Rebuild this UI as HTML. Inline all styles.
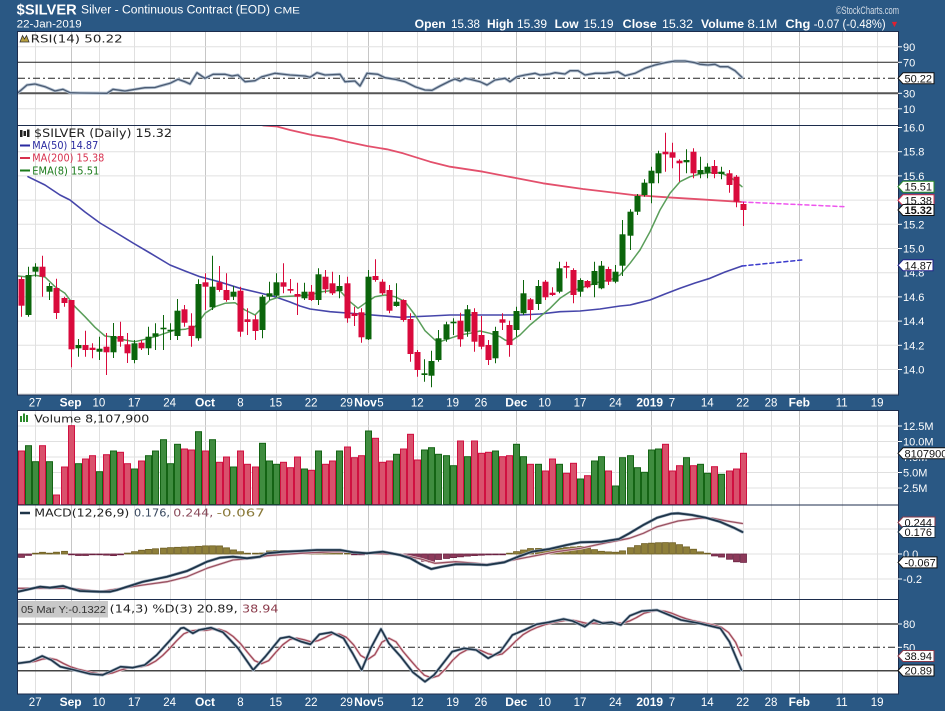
<!DOCTYPE html>
<html><head><meta charset="utf-8">
<style>
html,body{margin:0;padding:0;background:#2a5884;width:945px;height:711px;overflow:hidden}
svg{display:block}
text{font-family:"Liberation Sans",sans-serif}
.lg{font-family:"DejaVu Sans","Liberation Sans",sans-serif}
.ax{font-size:11px;fill:#fff}
.xl{font-size:11.5px;fill:#fff;text-anchor:middle}
.xm{font-size:12px;fill:#fff;text-anchor:middle;font-weight:bold}
.bx{font-size:11px;fill:#111}
</style></head><body>
<svg id="c" width="945" height="711" viewBox="0 0 945 711" xmlns="http://www.w3.org/2000/svg">
<defs>
<clipPath id="cR"><rect x="18" y="31.5" width="880" height="94"/></clipPath>
<clipPath id="cM"><rect x="18" y="125.5" width="880" height="269.5"/></clipPath>
<clipPath id="cV"><rect x="18" y="410.5" width="880" height="94.5"/></clipPath>
<clipPath id="cD"><rect x="18" y="505" width="880" height="94.5"/></clipPath>
<clipPath id="cS"><rect x="18" y="599.5" width="880" height="94.5"/></clipPath>
</defs>
<rect width="945" height="711" fill="#2a5884"/>
<g fill="#fff">
<rect x="18" y="31.5" width="880" height="94"/>
<rect x="18" y="125.5" width="880" height="269.5"/>
<rect x="18" y="410.5" width="880" height="94.5"/>
<rect x="18" y="505" width="880" height="94.5"/>
<rect x="18" y="599.5" width="880" height="94.5"/>
</g>
<g id="grid"></g>
<g id="fixed" fill="none">
<line x1="18" x2="898" y1="62.3" y2="62.3" stroke="#222" stroke-width="1"/>
<line x1="18" x2="898" y1="78.3" y2="78.3" stroke="#222" stroke-width="1" stroke-dasharray="7,3,2,3"/>
<line x1="18" x2="898" y1="93.3" y2="93.3" stroke="#555" stroke-width="2"/>
<line x1="18" x2="898" y1="624" y2="624" stroke="#444" stroke-width="1.5"/>
<line x1="18" x2="898" y1="647.3" y2="647.3" stroke="#222" stroke-width="1" stroke-dasharray="7,3,2,3"/>
<line x1="18" x2="898" y1="670.7" y2="670.7" stroke="#444" stroke-width="1.5"/>
</g>
<g id="ser"></g>
<g fill="none" stroke="#1c2c4c" stroke-width="1">
<rect x="17.5" y="31.5" width="881" height="94"/>
<rect x="17.5" y="125.5" width="881" height="269.5"/>
<rect x="17.5" y="410.5" width="881" height="94.5"/>
<rect x="17.5" y="505" width="881" height="94.5"/>
<rect x="17.5" y="599.5" width="881" height="94.5"/>
</g>

<!-- header -->
<text x="16.7" y="14.5" font-size="14.5" font-weight="bold" fill="#fff" textLength="60" lengthAdjust="spacingAndGlyphs">$SILVER</text>
<text x="81" y="13.5" font-size="11.5" fill="#fff" textLength="189" lengthAdjust="spacingAndGlyphs">Silver - Continuous Contract (EOD)</text>
<text x="274" y="13.5" font-size="9.5" fill="#fff" textLength="26" lengthAdjust="spacingAndGlyphs">CME</text>
<text x="16.7" y="27.5" font-size="11" fill="#fff" textLength="65" lengthAdjust="spacingAndGlyphs">22-Jan-2019</text>
<text x="836" y="14" font-size="11" fill="#d4dce6" textLength="63" lengthAdjust="spacingAndGlyphs">©StockCharts.com</text>
<g font-size="11.5" fill="#fff">
<text x="414.7" y="28" font-weight="bold" textLength="31" lengthAdjust="spacingAndGlyphs">Open</text>
<text x="451" y="28" textLength="29" lengthAdjust="spacingAndGlyphs">15.38</text>
<text x="487" y="28" font-weight="bold" textLength="26.6" lengthAdjust="spacingAndGlyphs">High</text>
<text x="517" y="28" textLength="30" lengthAdjust="spacingAndGlyphs">15.39</text>
<text x="554.6" y="28" font-weight="bold" textLength="24" lengthAdjust="spacingAndGlyphs">Low</text>
<text x="583.5" y="28" textLength="30" lengthAdjust="spacingAndGlyphs">15.19</text>
<text x="622.7" y="28" font-weight="bold" textLength="34" lengthAdjust="spacingAndGlyphs">Close</text>
<text x="662" y="28" textLength="31" lengthAdjust="spacingAndGlyphs">15.32</text>
<text x="701" y="28" font-weight="bold" textLength="43" lengthAdjust="spacingAndGlyphs">Volume</text>
<text x="747.4" y="28" textLength="30" lengthAdjust="spacingAndGlyphs">8.1M</text>
<text x="785.4" y="28" font-weight="bold" textLength="25" lengthAdjust="spacingAndGlyphs">Chg</text>
<text x="813.7" y="28" textLength="72" lengthAdjust="spacingAndGlyphs">-0.07 (-0.48%)</text>
</g>
<text x="890" y="27" font-size="9" fill="#e02030">▼</text>

<!-- legends -->
<polygon points="20,42 22.5,35.5 24.5,39 26.5,35.5 29,42" fill="#b8a040" stroke="#333" stroke-width="0.8"/>
<text class="lg" x="30.7" y="42.5" font-size="11" fill="#222" textLength="92" lengthAdjust="spacingAndGlyphs">RSI(14) 50.22</text>

<g fill="#222"><rect x="20" y="130" width="2.5" height="7"/><rect x="23.5" y="131" width="2.5" height="5"/><rect x="27" y="129.5" width="2.5" height="7.5"/></g>
<text class="lg" x="34" y="137" font-size="11.5" fill="#222" textLength="138" lengthAdjust="spacingAndGlyphs">$SILVER (Daily) 15.32</text>
<line x1="20" x2="30" y1="145.5" y2="145.5" stroke="#2a2aa0" stroke-width="2"/>
<text class="lg" x="32.3" y="149" font-size="10.5" fill="#2a2aa0" textLength="66" lengthAdjust="spacingAndGlyphs">MA(50) 14.87</text>
<line x1="20" x2="30" y1="158" y2="158" stroke="#d8304e" stroke-width="2"/>
<text class="lg" x="32.3" y="161.7" font-size="10.5" fill="#d8304e" textLength="72" lengthAdjust="spacingAndGlyphs">MA(200) 15.38</text>
<line x1="20" x2="30" y1="170.5" y2="170.5" stroke="#1a7a1a" stroke-width="2"/>
<text class="lg" x="32.3" y="174.3" font-size="10.5" fill="#1a7a1a" textLength="67" lengthAdjust="spacingAndGlyphs">EMA(8) 15.51</text>

<g fill="#2a8a2a"><rect x="20" y="416" width="2" height="6"/><rect x="23" y="413.5" width="2" height="8.5"/><rect x="26" y="415" width="2" height="7"/></g>
<text class="lg" x="34.3" y="422.3" font-size="11" fill="#222" textLength="115" lengthAdjust="spacingAndGlyphs">Volume 8,107,900</text>

<line x1="20" x2="30" y1="513" y2="513" stroke="#1e3448" stroke-width="2.5"/>
<text class="lg" x="34.3" y="516.7" font-size="11" fill="#222" textLength="95" lengthAdjust="spacingAndGlyphs">MACD(12,26,9)</text>
<text class="lg" x="134" y="516.7" font-size="11" fill="#3a4a60" textLength="36" lengthAdjust="spacingAndGlyphs">0.176,</text>
<text class="lg" x="173.3" y="516.7" font-size="11" fill="#8a4a5a" textLength="40" lengthAdjust="spacingAndGlyphs">0.244,</text>
<text class="lg" x="216.7" y="516.7" font-size="11" fill="#8a7a3a" textLength="48" lengthAdjust="spacingAndGlyphs">-0.067</text>

<rect x="18" y="601" width="90" height="16.5" fill="#c8c8c8"/>
<text x="21" y="613" font-size="10" fill="#333" textLength="85" lengthAdjust="spacingAndGlyphs">05 Mar Y:-0.1322</text>
<text class="lg" x="109.7" y="612.5" font-size="10.5" fill="#222" textLength="128" lengthAdjust="spacingAndGlyphs">(14,3) %D(3) 20.89,</text>
<text class="lg" x="242" y="612.5" font-size="10.5" fill="#8a3a4a" textLength="36.5" lengthAdjust="spacingAndGlyphs">38.94</text>

<!-- right axis labels -->
<g stroke="#fff" stroke-width="1">
<line x1="898" x2="902" y1="46.8" y2="46.8"/><line x1="898" x2="902" y1="62.3" y2="62.3"/><line x1="898" x2="902" y1="93.3" y2="93.3"/><line x1="898" x2="902" y1="108.8" y2="108.8"/>
<line x1="898" x2="902" y1="127.5" y2="127.5"/><line x1="898" x2="902" y1="151.7" y2="151.7"/><line x1="898" x2="902" y1="175.9" y2="175.9"/><line x1="898" x2="902" y1="224.3" y2="224.3"/><line x1="898" x2="902" y1="248.5" y2="248.5"/><line x1="898" x2="902" y1="296.9" y2="296.9"/><line x1="898" x2="902" y1="321.1" y2="321.1"/><line x1="898" x2="902" y1="345.3" y2="345.3"/><line x1="898" x2="902" y1="369.5" y2="369.5"/>
<line x1="898" x2="902" y1="426" y2="426"/><line x1="898" x2="902" y1="441.5" y2="441.5"/><line x1="898" x2="902" y1="472.5" y2="472.5"/><line x1="898" x2="902" y1="488" y2="488"/>
<line x1="898" x2="902" y1="554" y2="554"/><line x1="898" x2="902" y1="579" y2="579"/>
<line x1="898" x2="902" y1="624" y2="624"/><line x1="898" x2="902" y1="647.3" y2="647.3"/>
</g>
<g class="ax">
<text class="ax" x="903" y="50.8">90</text>
<text class="ax" x="903" y="66.3">70</text>
<text class="ax" x="903" y="97.3">30</text>
<text class="ax" x="903" y="112.8">10</text>
<text class="ax" x="903" y="131.5">16.0</text>
<text class="ax" x="903" y="155.7">15.8</text>
<text class="ax" x="903" y="179.9">15.6</text>
<text class="ax" x="903" y="204.1">15.4</text>
<text class="ax" x="903" y="228.3">15.2</text>
<text class="ax" x="903" y="252.5">15.0</text>
<text class="ax" x="903" y="276.7">14.8</text>
<text class="ax" x="903" y="300.9">14.6</text>
<text class="ax" x="903" y="325.1">14.4</text>
<text class="ax" x="903" y="349.3">14.2</text>
<text class="ax" x="903" y="373.5">14.0</text>
<text class="ax" x="903" y="430">12.5M</text>
<text class="ax" x="903" y="445.5">10.0M</text>
<text class="ax" x="903" y="461">7.5M</text>
<text class="ax" x="903" y="476.5">5.0M</text>
<text class="ax" x="903" y="492">2.5M</text>
<text class="ax" x="903" y="533">0.2</text>
<text class="ax" x="903" y="558">0.0</text>
<text class="ax" x="903" y="583">-0.2</text>
<text class="ax" x="903" y="628">80</text>
<text class="ax" x="903" y="651.3">50</text>
</g>
<!-- value boxes -->
<polygon points="898,78.3 903,72.8 934,72.8 934,83.8 903,83.8" fill="#fff" stroke="#111"/>
<text class="bx" x="904.5" y="82.3">50.22</text>
<polygon points="898,186.7 903,181.2 934,181.2 934,192.2 903,192.2" fill="#fff" stroke="#2a8a2a"/>
<text class="bx" x="904.5" y="190.7">15.51</text>
<polygon points="898,200.3 903,194.8 934,194.8 934,205.8 903,205.8" fill="#fff" stroke="#d8304e"/>
<text class="bx" x="904.5" y="204.3">15.38</text>
<polygon points="898,210 903,204.5 934,204.5 934,215.5 903,215.5" fill="#fff" stroke="#111"/>
<text class="bx" x="904.5" y="214" font-weight="bold">15.32</text>
<polygon points="898,265.3 903,259.8 933,259.8 933,270.8 903,270.8" fill="#fff" stroke="#22228a"/>
<text class="bx" x="904.5" y="269.3">14.87</text>
<polygon points="898,453.3 903,447.8 950,447.8 950,458.8 903,458.8" fill="#fff" stroke="#111"/>
<text class="bx" x="904.5" y="457.3">8107900</text>
<polygon points="898,522.5 903,517 935,517 935,528 903,528" fill="#fff" stroke="#8a3a4a"/>
<text class="bx" x="904.5" y="526.5">0.244</text>
<polygon points="898,532 903,526.5 935,526.5 935,537.5 903,537.5" fill="#fff" stroke="#1e3448"/>
<text class="bx" x="904.5" y="536">0.176</text>
<polygon points="898,562.4 903,556.9 937,556.9 937,567.9 903,567.9" fill="#fff" stroke="#111"/>
<text class="bx" x="904.5" y="566.4">-0.067</text>
<polygon points="898,656 903,650.5 934,650.5 934,661.5 903,661.5" fill="#fff" stroke="#8a3a4a"/>
<text class="bx" x="904.5" y="660">38.94</text>
<polygon points="898,670.5 903,665 934,665 934,676 903,676" fill="#fff" stroke="#111"/>
<text class="bx" x="904.5" y="674.5">20.89</text>

<!-- x-axis labels (top strip) -->
<g>
<text class="xl" x="35.2" y="406.5">27</text>
<text class="xm" x="70.6" y="406.5">Sep</text>
<text class="xl" x="98.9" y="406.5">10</text>
<text class="xl" x="134.3" y="406.5">17</text>
<text class="xl" x="169.6" y="406.5">24</text>
<text class="xm" x="205" y="406.5">Oct</text>
<text class="xl" x="240.4" y="406.5">8</text>
<text class="xl" x="275.8" y="406.5">15</text>
<text class="xl" x="311.1" y="406.5">22</text>
<text class="xl" x="346.5" y="406.5">29</text>
<text class="xm" x="365.5" y="406.5">Nov</text>
<text class="xl" x="380.5" y="406.5">5</text>
<text class="xl" x="417.3" y="406.5">12</text>
<text class="xl" x="452.6" y="406.5">19</text>
<text class="xl" x="480.9" y="406.5">26</text>
<text class="xm" x="516.3" y="406.5">Dec</text>
<text class="xl" x="544.6" y="406.5">10</text>
<text class="xl" x="580" y="406.5">17</text>
<text class="xl" x="615.4" y="406.5">24</text>
<text class="xm" x="649.7" y="406.5">2019</text>
<text class="xl" x="671.9" y="406.5">7</text>
<text class="xl" x="707.3" y="406.5">14</text>
<text class="xl" x="742.7" y="406.5">22</text>
<text class="xl" x="771" y="406.5">28</text>
<text class="xm" x="799.3" y="406.5">Feb</text>
<text class="xl" x="841.7" y="406.5">11</text>
<text class="xl" x="877.1" y="406.5">19</text>
</g>
<!-- x-axis labels (bottom strip) -->
<g>
<text class="xl" x="35.2" y="706">27</text>
<text class="xm" x="70.6" y="706">Sep</text>
<text class="xl" x="98.9" y="706">10</text>
<text class="xl" x="134.3" y="706">17</text>
<text class="xl" x="169.6" y="706">24</text>
<text class="xm" x="205" y="706">Oct</text>
<text class="xl" x="240.4" y="706">8</text>
<text class="xl" x="275.8" y="706">15</text>
<text class="xl" x="311.1" y="706">22</text>
<text class="xl" x="346.5" y="706">29</text>
<text class="xm" x="365.5" y="706">Nov</text>
<text class="xl" x="380.5" y="706">5</text>
<text class="xl" x="417.3" y="706">12</text>
<text class="xl" x="452.6" y="706">19</text>
<text class="xl" x="480.9" y="706">26</text>
<text class="xm" x="516.3" y="706">Dec</text>
<text class="xl" x="544.6" y="706">10</text>
<text class="xl" x="580" y="706">17</text>
<text class="xl" x="615.4" y="706">24</text>
<text class="xm" x="649.7" y="706">2019</text>
<text class="xl" x="671.9" y="706">7</text>
<text class="xl" x="707.3" y="706">14</text>
<text class="xl" x="742.7" y="706">22</text>
<text class="xl" x="771" y="706">28</text>
<text class="xm" x="799.3" y="706">Feb</text>
<text class="xl" x="841.7" y="706">11</text>
<text class="xl" x="877.1" y="706">19</text>
</g>
</svg>
<script>
(function(){
const NS='http://www.w3.org/2000/svg';
function E(t,a,p){const e=document.createElementNS(NS,t);for(const k in a)e.setAttribute(k,a[k]);p.appendChild(e);return e;}
const X=i=>35.2+7.075*i;
const grid=document.getElementById('grid');
const ser=document.getElementById('ser');
const panels=[[31.5,125.5],[125.5,395],[410.5,505],[505,599.5],[599.5,694]];
const wk=[0,9,14,19,29,34,39,44,49,54,59,63,72,77,82,90,95,100,104,114,119];
const mo=[5,24,47,68,87,108];
panels.forEach(function(p){
 wk.forEach(function(i){const x=Math.round(X(i))+.5;E('line',{x1:x,x2:x,y1:p[0],y2:p[1],stroke:'#e0e0e0','stroke-width':1},grid);});
 mo.forEach(function(i){const x=Math.round(X(i))+.5;E('line',{x1:x,x2:x,y1:p[0],y2:p[1],stroke:'#c6c6c6','stroke-width':1},grid);});
});
const hy=[46.8,108.8,151.7,175.9,200.1,224.3,248.5,272.7,296.9,321.1,345.3,369.5,393.7,426,441.5,457,472.5,488,529,554,579];
hy.forEach(function(y){E('line',{x1:18,x2:898,y1:y,y2:y,stroke:'#e0e0e0','stroke-width':1},grid);});

function pl(pts){return pts.map(function(p){return p[0].toFixed(1)+','+p[1].toFixed(1);}).join(' ');}
function line(g,pts,st,w,extra){const a={points:pl(pts),fill:'none',stroke:st,'stroke-width':w,'stroke-linejoin':'round','stroke-linecap':'round'};if(extra)for(const k in extra)a[k]=extra[k];return E('polyline',a,g);}
function gp(c){return E('g',{'clip-path':'url(#'+c+')'},ser);}
function iy(pts,x){if(x<=pts[0][0])return pts[0][1];for(let k=1;k<pts.length;k++){if(x<=pts[k][0]){const a=pts[k-1],b=pts[k];return a[1]+(b[1]-a[1])*(x-a[0])/(b[0]-a[0]);}}return pts[pts.length-1][1];}

/* RSI */
const RSI=[[18,92.7],[27,85],[35,84],[45,86.7],[55,91],[63,89.3],[70,92.7],[80,93],[107,93.3],[113,89.3],[125,91],[135,89.3],[145,87.7],[155,87.5],[160,86],[170,83.3],[178,79.3],[185,81.7],[190,84],[197,72.7],[205,78.3],[213,74.3],[225,74.3],[232,76],[238,75],[245,81.7],[255,80.7],[262,76.7],[275,73.3],[290,75],[305,76],[310,77.3],[317,72.7],[325,75],[340,74.3],[345,81.7],[355,81],[360,86],[367,73.3],[378,74.3],[385,77.7],[395,79.3],[405,81.7],[415,86.7],[425,90],[432,90.3],[440,86],[450,81],[455,79],[460,81],[465,78.3],[470,79.3],[480,81.7],[487,85],[495,80],[505,78.3],[510,81.7],[517,76.7],[525,75],[535,73.3],[540,75],[550,74],[555,72.7],[565,74],[570,70.7],[578,70.7],[585,75],[595,73.3],[605,73.3],[610,72.7],[618,71.7],[625,75.7],[635,73.3],[645,68.3],[655,65],[665,62.7],[675,61],[685,61],[695,62.7],[700,64.3],[708,65],[715,64.3],[720,66.7],[728,66.7],[735,70.7],[742,77.3]];
const gR=gp('cR');
line(gR,RSI,'#b4c2d2',3);
line(gR,RSI,'#4b5b72',1.3);

/* main */
const gM=gp('cM');
const MA200=[[263,125.5],[277,126.5],[290,130],[312,135],[333,138.3],[347,141.7],[367,146],[387,149.3],[403,153.3],[430,161.7],[450,166.7],[483,171.7],[517,178.3],[543,183.3],[583,189],[600,191],[633,195],[667,197.3],[700,199.3],[742,202]];
const MA50=[[28,176.7],[45,185],[60,195],[70,200],[85,212],[100,223],[115,232],[133,243],[150,253],[170,265],[185,271],[200,276.7],[220,282],[240,288.3],[260,293],[275,296.7],[290,302],[300,306],[310,309],[330,311.7],[360,314],[400,317.3],[430,316],[450,315],[500,315],[520,315],[540,314],[560,311.7],[580,311],[600,309],[620,306],[630,305],[650,300],[665,294],[680,288.3],[695,283],[710,278.3],[725,272],[742,266]];
const EMA=[[18,276],[25,276.7],[35,275.3],[45,277],[55,286.7],[65,293.3],[75,306.7],[85,316.7],[95,327.3],[105,336],[115,337.3],[125,340],[135,341.7],[145,339.3],[155,336.7],[165,333.3],[175,330],[185,329.3],[195,326.7],[205,313.3],[215,306.7],[225,303.3],[235,302.7],[245,310],[255,315],[262,308],[270,300],[280,296.7],[295,296],[310,295],[320,292],[330,290.7],[340,290.7],[350,301.7],[358,308.3],[365,303.3],[375,296.7],[385,295],[395,296.7],[405,301.7],[415,315],[425,330.7],[435,340],[440,341.7],[450,338.3],[460,335],[470,333.3],[480,331],[490,333.3],[500,336.7],[505,340],[510,341.7],[520,335],[530,325],[540,316.7],[550,308.3],[560,298.3],[570,291.7],[580,288.3],[590,285],[600,281.7],[610,280],[620,275],[630,263.3],[640,250],[650,231.7],[660,210],[670,193.3],[680,181.7],[690,176.7],[700,174],[710,172.7],[720,172.7],[730,176.7],[742,186.7]];
line(gM,MA200,'#e3506c',1.8);
line(gM,MA50,'#4646aa',1.6);
line(gM,[[742,202],[845,206.7]],'#ee55ee',1.5,{'stroke-dasharray':'4,3'});
line(gM,[[742,266],[802,260]],'#3b3bcc',1.5,{'stroke-dasharray':'4,3'});
line(gM,EMA,'#5a9e5a',1.5);

const C=[[-2,'r',279,305.7,276.7,316.7],[-1,'g',275,315,266.7,316.7],[0,'g',266.7,271.7,263.3,276.7],[1,'r',266.7,276.7,255.7,296.7],[2,'g',286,291.7,283,300],[3,'r',288,313,278.7,319],[4,'r',298,303,296.7,306.7],[5,'r',300,349.3,300,367.3],[6,'g',345,348.3,339,356.7],[7,'r',345,350,330.7,356.7],[8,'r',347.7,350,343.3,358.3],[9,'g',348.7,351.7,336.7,360],[10,'r',346.7,352.3,333,375],[11,'g',336,352.3,323,358],[12,'r',336,341.7,321.7,346.7],[13,'r',344.3,353.3,333,363],[14,'g',343.3,360,340,363.3],[15,'r',342.7,348.3,340,350],[16,'g',336.7,348.3,326.7,355],[17,'g',333.3,336.7,323.3,350],[18,'g',327.7,329.3,315,350],[19,'g',329.7,331.3,323.3,340],[20,'g',310.7,336,299,340],[21,'r',309.3,322.7,305,326.7],[22,'r',325.7,336,313.3,346.7],[23,'g',284,338.3,279.3,340.7],[24,'r',282.3,286.7,273.3,310],[25,'g',286.7,307.3,255.7,310],[26,'r',282.3,290,266,291.7],[27,'r',290,300,273.3,301.7],[28,'g',291.7,296.7,286,300],[29,'r',290.7,331.7,286.7,336.7],[30,'r',319.3,322,308.3,335],[31,'r',319.3,331,315,340],[32,'g',296.7,330,295,338.3],[33,'g',293.3,296.7,281.7,300],[34,'g',282.3,295.7,273.3,296.7],[35,'r',282.3,286.7,263.3,293.3],[36,'r',289,290.7,279,293.3],[37,'r',294,296.7,282.7,315],[38,'g',291.7,298.3,282.7,300],[39,'r',291.7,300,285,301],[40,'g',274.3,300,268.3,305],[41,'r',276.7,289.3,270,293.3],[42,'r',283.3,293.3,271.7,295],[43,'g',286,291,275,298.3],[44,'r',283.3,318.3,276.7,322.7],[45,'r',313.3,316,306.7,326],[46,'r',312.3,337.3,308.3,342.7],[47,'g',276.7,339.3,270,340],[48,'r',276,280,259.3,281.7],[49,'r',281.7,293.3,279.3,295],[50,'r',290,310.7,285,313.3],[51,'g',301.7,306,283.3,306.7],[52,'r',300,320,299.3,321.7],[53,'r',319,354,313.3,361.7],[54,'r',352,370,350,376.7],[55,'g',373.3,375,359.3,381.7],[56,'g',361,375.7,350.7,387.3],[57,'g',338.3,360,330,361.7],[58,'g',324.3,339.3,321.7,341.7],[59,'g',321.7,322.7,318.3,335],[60,'r',320.7,339.3,312.7,346.7],[61,'g',309.3,331.7,305,336.7],[62,'r',312,341.7,308.3,351.7],[63,'r',335,346.7,316,349.3],[64,'r',345,360,340,365],[65,'g',331,358.3,326.7,363.3],[66,'r',319.3,322.7,313.3,330],[67,'r',325,345,320.7,356.7],[68,'g',311,330,306.7,336.7],[69,'g',293.3,313.3,280,315],[70,'r',299.3,310,298,320],[71,'g',286,304,280,310],[72,'r',281.7,297.3,280,300],[73,'r',292.7,295,287.3,296],[74,'g',268.3,291.7,261.7,293.3],[75,'r',266,267.7,261.7,278.3],[76,'r',270,295,268.3,303.3],[77,'g',280,291.7,278.3,296.7],[78,'r',281,287.3,280,288.3],[79,'g',271,285,261.7,297.3],[80,'g',265.7,288.3,261,289.3],[81,'r',269,281.7,266.7,285],[82,'g',271.7,281.7,265,283.3],[83,'g',234.3,265.7,220,276],[84,'g',211.7,235.7,209.3,250],[85,'g',196,211.7,194,215],[86,'g',182.7,195,179.3,196.7],[87,'g',170.7,183.3,166.7,203.3],[88,'g',153.3,173.3,150.7,183.3],[89,'r',151.7,154.3,132.7,171.7],[90,'r',152.3,157.7,142.7,168.3],[91,'r',160.7,163.3,159.3,181.7],[92,'g',160,162.3,149.3,173.3],[93,'r',151.7,173.3,148.3,178.3],[94,'g',170,174,156.7,178.3],[95,'g',166.7,172.7,163.3,178.3],[96,'r',166,174,160,178.3],[97,'g',171.7,174,166.7,179.3],[98,'r',173.3,185,170,192.7],[99,'r',176.7,201.7,175,207.3],[100,'r',204,210,201.7,226]];
const col={};
C.forEach(function(c){
 const x=X(c[0]);col[c[0]]=c[1];
 const cc=c[1]=='g'?'#0b650b':'#d90a3c';
 const xw=Math.round(x)+.5;
 E('line',{x1:xw,x2:xw,y1:c[4],y2:c[5],stroke:cc,'stroke-width':1},gM);
 let h=c[3]-c[2];if(h<1.6)h=1.6;
 E('rect',{x:(Math.round(x)-2.5),y:c[2],width:6,height:h,fill:cc},gM);
});

/* volume */
const V=[451,445.7,461.7,445.7,461.7,495,467,425.7,463.7,459,455.7,471.7,454.7,451,452.3,463.7,469,461,455.7,451,439.7,463.7,444.3,449,450,431.7,451,439.7,462.3,457,467,451,464.3,467,443.3,461,464.3,462.3,467.7,457,469,470.3,451,464.3,461,451,447,457.7,455.7,431,438.3,462.3,461,454.3,449,434.3,460,450,447.7,454.3,455.7,465.7,441,456.7,441,453.3,452.3,451,456.7,455.7,444.3,456.7,464.3,464.3,471,459,464.3,473.3,463.3,479,475.7,461,456.7,471,486,457.7,455.7,467.7,472.3,450,449,444.3,471,465.7,457.7,465.7,464.3,473.3,466.7,474.3,471,469,453.3];
const gV=gp('cV');
V.forEach(function(t,k){
 const i=k-2;const x=Math.round(X(i))-2.5;
 const g=col[i]=='g';
 E('rect',{x:x,y:t,width:6,height:504.5-t,fill:g?'#3f8c3f':'#d9516c',stroke:g?'#146414':'#d01040','stroke-width':1},gV);
});

/* MACD */
const MACD=[[18,591.7],[40,586.7],[50,587.7],[63,586],[70,588.3],[80,591],[100,591.7],[110,591.7],[117,590],[143,581.7],[167,576.7],[187,571],[193,568.3],[207,561.7],[220,557.7],[233,556.7],[247,558.3],[260,556.7],[267,553.3],[283,551.7],[300,551],[317,550],[340,550],[353,552.3],[367,553.3],[383,551.7],[400,555],[410.4,558.3],[420.9,564.3],[431.3,569],[441.7,566.7],[455.6,564.3],[469.5,564.3],[486.9,565],[504.3,562.3],[518.2,556.7],[532.1,551.7],[549.5,549],[566.8,545],[580.7,542.3],[601.6,541.7],[619,539],[629.4,533.3],[643.3,525],[657.2,517.7],[671.1,513.7],[678.1,513.3],[692,515],[705.9,517.7],[719.8,521.7],[733.7,527.7],[742.4,532]];
const SIG=[[18,588.3],[70,588.3],[100,591.7],[143,585],[167,581.7],[187,576.7],[207,568.3],[233,560],[253,558.3],[267,555.7],[300,553.3],[333,551.7],[353,551.7],[367,553.3],[400,554.3],[420.9,559],[434.8,563.3],[455.6,561.7],[486.9,564.3],[504.3,561.7],[518.2,559],[539,555],[556.4,551.7],[580.7,548.3],[608.5,542.3],[629.4,538.3],[643.3,533.3],[657.2,526.7],[678.1,521],[698.9,518.3],[712.8,518.3],[726.7,521],[742.4,523.5]];
const gD=gp('cD');
for(let i=-2;i<=100;i++){
 const x=X(i);if(x<18)continue;
 let hv=(iy(MACD,x)-iy(SIG,x))*1.25;
 if(i==100)hv=8.4;
 const bx=Math.round(x)-2.5;
 if(hv<0){let h=-hv;if(h<0.8)h=0.8;E('rect',{x:bx,y:554-h,width:6,height:h,fill:'#8e7f3a',stroke:'#6e5e22','stroke-width':0.8},gD);}
 else{let h=hv;if(h<0.8)h=0.8;E('rect',{x:bx,y:554,width:6,height:h,fill:'#8c3a5a',stroke:'#6a2040','stroke-width':0.8},gD);}
}
line(gD,SIG,'#e8d0d6',2.6);
line(gD,SIG,'#9a5262',1.3);
line(gD,MACD,'#9aaabb',3);
line(gD,MACD,'#1e3448',1.8);

/* Stochastic */
const K=[[18.1,663.3],[30.1,661.7],[42.2,656],[51.2,660],[60.3,666.7],[78.4,671],[90.4,674],[102.5,675],[111.5,671],[120.6,666.7],[132.6,667.7],[144.7,665],[156.7,655],[168.8,641.7],[180.8,628.3],[183.8,627.7],[192.9,633.3],[198.9,630],[211,627.7],[223,632.3],[238.1,648.3],[253.2,670],[265.2,656.7],[280.3,638.3],[289.3,636.7],[301.4,641.7],[310.4,644.3],[319.5,634.3],[331.5,632.3],[343.6,638.3],[352.6,653.3],[361.7,670],[370.7,648.3],[381,629],[388.8,643.3],[400.8,656.7],[412.9,672.3],[425,681.7],[434,675],[452.1,651.7],[464.1,648.3],[476.2,650],[488.2,658.3],[500.3,651.7],[512.4,635],[524.4,630],[536.5,624.3],[548.5,622.3],[563.6,619],[572.6,621],[584.7,626.7],[593.7,620],[602.8,623.3],[611.8,622.3],[620.9,625],[629.9,615.7],[641.9,611],[657,610],[669.1,615],[681.1,620],[699.2,623.3],[720.3,628.3],[729.4,641.7],[741.4,670]];
const ks=[],D=[];
for(let i=-2;i<=100;i++){const x=X(i);ks.push(iy(K,x));const n=ks.length;const a=ks.slice(Math.max(0,n-3));D.push([x,a.reduce(function(s,v){return s+v;},0)/a.length]);}
D[D.length-1][0]=741.4;
const gS=gp('cS');
line(gS,D,'#e8cdd2',2.6);
line(gS,D,'#a24a5a',1.3);
line(gS,K,'#a8b6c6',3);
line(gS,K,'#1e3448',1.6);
})();
</script>
</body></html>
